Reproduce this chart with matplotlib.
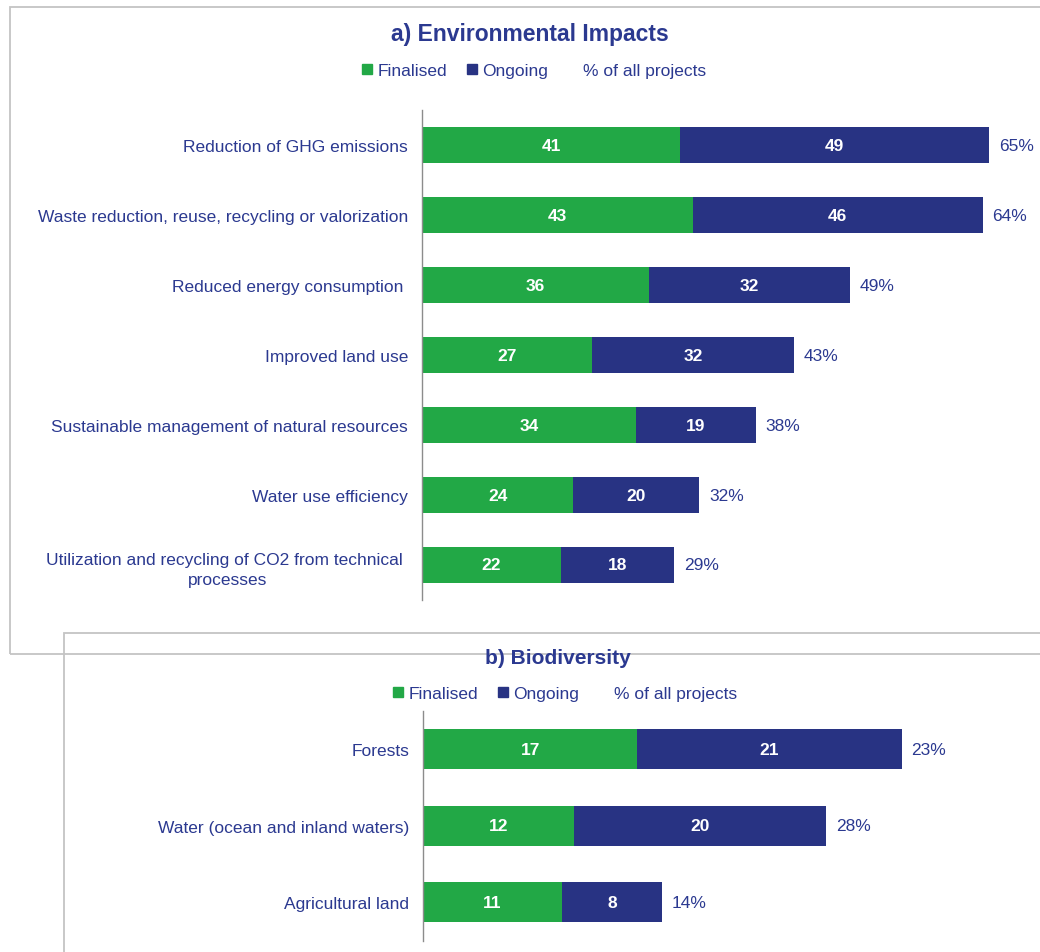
import matplotlib.pyplot as plt
from matplotlib.lines import Line2D
from matplotlib.patches import Rectangle

# data
env_cats = ["Reduction of GHG emissions",
            "Waste reduction, reuse, recycling or valorization",
            "Reduced energy consumption ",
            "Improved land use",
            "Sustainable management of natural resources",
            "Water use efficiency",
            "Utilization and recycling of CO2 from technical \nprocesses"]
env_final = [41, 43, 36, 27, 34, 24, 22]
env_ongoing = [49, 46, 32, 32, 19, 20, 18]
env_pct = ["65%", "64%", "49%", "43%", "38%", "32%", "29%"]

bio_cats = ["Forests", "Water (ocean and inland waters)", "Agricultural land"]
bio_final = [17, 12, 11]
bio_ongoing = [21, 20, 8]
bio_pct = ["23%", "28%", "14%"]

GREEN = "#22A846"
NAVY = "#283383"
TXT = "#2B3990"

plt.rcParams['font.family'] = ['Liberation Sans', 'DejaVu Sans']
plt.rcParams['font.size'] = 12

W, H = 1040, 953
fig = plt.figure(figsize=(W / 100, H / 100), dpi=100)

# panel frames
fig.patches.append(Rectangle((10 / W, 1 - 655 / H), 1.1, 647 / H, transform=fig.transFigure,
                             fill=False, ec="#C4C4C4", lw=1.3))
fig.patches.append(Rectangle((64 / W, -0.1), 1.1, 0.1 + (H - 634) / H, transform=fig.transFigure,
                             fill=False, ec="#C4C4C4", lw=1.3))


def draw_panel(ax, cats, fin, ong, pct, xmax, title, title_size, title_x, title_y, leg_x, leg_y):
    y = list(range(len(cats)))
    b1 = ax.barh(y, fin, height=0.52, color=GREEN)
    totals = [f + o for f, o in zip(fin, ong)]
    b2 = ax.barh(y, ong, left=fin, height=0.52, color=NAVY)
    ax.bar_label(b1, label_type='center', color='white', fontweight='bold', fontsize=12.5)
    ax.bar_label(b2, label_type='center', color='white', fontweight='bold', fontsize=12.5)
    for yi, t, p in zip(y, totals, pct):
        ax.annotate(p, (t, yi), xytext=(7, 0), textcoords='offset points',
                    va='center', ha='left', color=TXT, fontsize=12.5)
    ax.set_ylim(len(cats) - 0.5, -0.5)
    ax.set_xlim(0, xmax)
    ax.set_yticks(y)
    ax.set_yticklabels(cats, color=TXT, fontsize=12.5, multialignment='center',
                       linespacing=1.45)
    ax.tick_params(axis='y', length=0, pad=10)
    ax.set_xticks([])
    for s in ['top', 'right', 'bottom']:
        ax.spines[s].set_visible(False)
    ax.spines['left'].set_color('#8C8C8C')
    ax.spines['left'].set_linewidth(1)
    fig.text(title_x, title_y, title, ha='center', va='center',
             fontsize=title_size, fontweight='bold', color=TXT)
    handles = [Line2D([], [], marker='s', ls='', color=GREEN, markersize=6.5),
               Line2D([], [], marker='s', ls='', color=NAVY, markersize=6.5),
               Line2D([], [], ls='', marker='')]
    leg = fig.legend(handles, ["Finalised", "Ongoing", "% of all projects"], ncol=3,
                     loc='center', bbox_to_anchor=(leg_x, leg_y), frameon=False,
                     handlelength=0.6, handletextpad=0.3, columnspacing=1.1, fontsize=12.5)
    for t in leg.get_texts():
        t.set_color(TXT)


ax1 = fig.add_axes([422 / W, 1 - 601 / H, 95 * 6.3 / W, 490 / H])
draw_panel(ax1, env_cats, env_final, env_ongoing, env_pct, 95,
           "a) Environmental Impacts", 16.5, 530 / W, 1 - 34 / H, 534 / W, 1 - 71 / H)

ax2 = fig.add_axes([423 / W, 1 - 941.5 / H, 48 * 12.6 / W, 229.5 / H])
draw_panel(ax2, bio_cats, bio_final, bio_ongoing, bio_pct, 48,
           "b) Biodiversity", 15, 558 / W, 1 - 659 / H, 565 / W, 1 - 694 / H)

fig.savefig("out.png", dpi=100)
